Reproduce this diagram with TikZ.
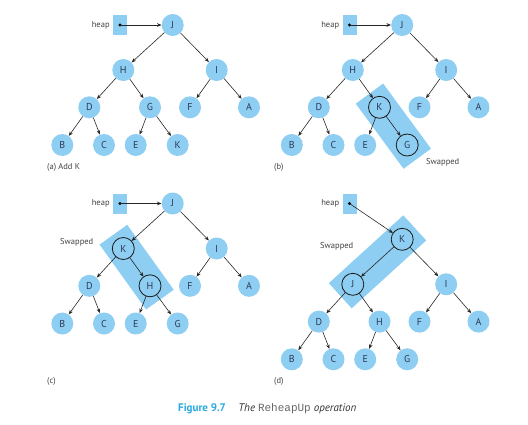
\documentclass[tikz,border=0pt]{standalone}
\usepackage{fontspec}
\setmainfont{PT Sans}
\setmonofont{Liberation Mono}
\usetikzlibrary{positioning,arrows.meta,calc,backgrounds}

\definecolor{keyblue}{RGB}{142,206,242}
\definecolor{keytext}{RGB}{45,58,88}
\definecolor{capblue}{RGB}{38,168,224}

% one heap of ten keys; #1 prefix, #2 root, #3 left child, #4 its right child, #5 last leaf
\newcommand{\heaptree}[5]{%
    \node[key] (#1top) at (172.7,25)   {#2};
    \node[key] (#1l)   at (123.3,70)   {#3};
    \node[key] (#1r)   at (216.7,70)   {I};
    \node[key] (#1ll)  at (89.3,107.3) {D};
    \node[key] (#1lr)  at (150,107.3)  {#4};
    \node[key] (#1rl)  at (190,107.3)  {F};
    \node[key] (#1rr)  at (249,107.3)  {A};
    \node[key] (#1lll) at (62.3,145)   {B};
    \node[key] (#1llr) at (104,145)    {C};
    \node[key] (#1lrl) at (135.7,145)  {E};
    \node[key] (#1lrr) at (177.7,145)  {#5};
    \draw[edge] (#1top) -- (#1l);
    \draw[edge] (#1top) -- (#1r);
    \draw[edge] (#1l) -- (#1ll);
    \draw[edge] (#1l) -- (#1lr);
    \draw[edge] (#1r) -- (#1rl);
    \draw[edge] (#1r) -- (#1rr);
    \draw[edge] (#1ll) -- (#1lll);
    \draw[edge] (#1ll) -- (#1llr);
    \draw[edge] (#1lr) -- (#1lrl);
    \draw[edge] (#1lr) -- (#1lrr);
}

% band behind the two keys that were swapped
\newcommand{\swapband}[2]{%
    \begin{pgfonlayer}{background}
        \path let \p1=($(#2)-(#1)$), \n1={atan2(\y1,\x1)}, \n2={veclen(\x1,\y1)} in
            node[band, rotate=\n1, minimum width=\n2+34] at ($(#1)!0.5!(#2)$) {};
    \end{pgfonlayer}
    \draw[ring] (#1.center) circle[radius=11];
    \draw[ring] (#2.center) circle[radius=11];
}

\begin{document}
\begin{tikzpicture}[
        x=1pt, y=-1pt,
        key/.style={
            circle,
            fill=keyblue,
            minimum size=22pt,
            inner sep=0pt,
            text=keytext,
            font=\fontsize{10}{11}\selectfont
        },
        edge/.style={-{Stealth[length=4.5pt,width=3.6pt]},line width=0.6pt,draw=black!85},
        ring/.style={draw=black!90,line width=0.8pt},
        band/.style={rectangle,fill=keyblue,minimum height=34pt,inner sep=0pt},
        heapbox/.style={
            rectangle,
            fill=keyblue,
            minimum width=14pt,
            minimum height=20pt,
            inner sep=0pt,
            label={[note,xshift=-3pt]left:heap}
        },
        note/.style={text=black!75,font=\fontsize{8.5}{10}\selectfont,inner sep=0pt},
        caption/.style={font=\fontsize{11}{13}\selectfont,inner sep=0pt}
    ]

    \useasboundingbox (0,0) rectangle (528,424);

    % (a) Add K
    \heaptree{a}{J}{H}{G}{K}
    \node[heapbox] (aheap) at (120,25) {};
    \fill (aheap.center) circle[radius=1.6];
    \draw[edge] (aheap.center) -- (atop);
    \node[note, anchor=west] (alabel) at (47,167) {(a) Add K};

    % (b)
    \begin{scope}[shift={(229.5,0)}]
        \heaptree{b}{J}{H}{K}{G}
    \end{scope}
    \swapband{blr}{blrr}
    \node[heapbox] (bheap) at (349.5,25) {};
    \fill (bheap.center) circle[radius=1.6];
    \draw[edge] (bheap.center) -- (btop);
    \node[note, anchor=west] (bswap) at (426,162) {Swapped};
    \node[note, anchor=west] (blabel) at (274,167) {(b)};

    % (c)
    \begin{scope}[shift={(0,178.5)}]
        \heaptree{c}{J}{K}{H}{G}
    \end{scope}
    \swapband{cl}{clr}
    \node[heapbox] (cheap) at (120,203.5) {};
    \fill (cheap.center) circle[radius=1.6];
    \draw[edge] (cheap.center) -- (ctop);
    \node[note, anchor=west] (cswap) at (60,242.7) {Swapped};
    \node[note, anchor=west] (clabel) at (47,381) {(c)};

    % (d)
    \begin{scope}[shift={(229.5,214.3)}]
        \heaptree{d}{K}{J}{H}{G}
    \end{scope}
    \swapband{dtop}{dl}
    \node[heapbox] (dheap) at (349.5,203.5) {};
    \fill (dheap.center) circle[radius=1.6];
    \draw[edge] (dheap.center) -- (dtop);
    \node[note, anchor=west] (dswap) at (320,246.7) {Swapped};
    \node[note, anchor=west] (dlabel) at (274,381) {(d)};

    % caption
    \node[caption, anchor=west, text=capblue] (capnum) at (178,409) {\bfseries Figure 9.7};
    \node[caption, right=12pt of capnum, text=black!80] (captext)
        {\itshape The {\upshape\ttfamily\color{black!60}ReheapUp} operation};

    \end{tikzpicture}
\end{document}
